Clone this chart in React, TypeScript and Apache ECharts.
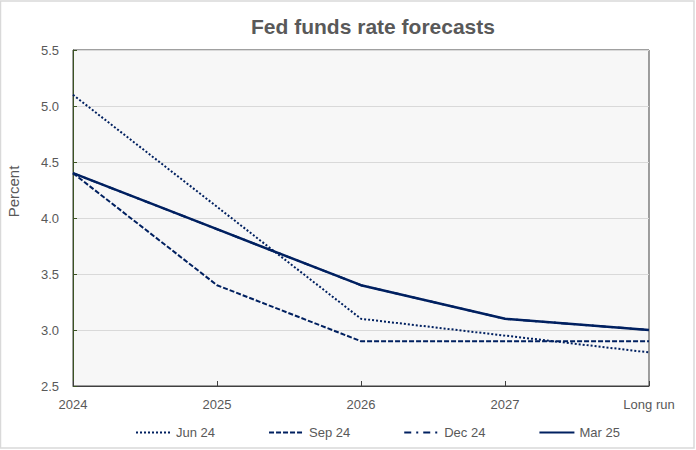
import React, { useEffect, useRef } from "react";
import * as echarts from "echarts";

const categories = ["2024", "2025", "2026", "2027", "Long run"];
const jun24 = [5.1, 4.1, 3.1, null, 2.8];
const sep24 = [4.4, 3.4, 2.9, 2.9, 2.9];
const dec24 = [4.4, 3.9, 3.4, 3.1, 3.0];
const mar25 = [4.4, 3.9, 3.4, 3.1, 3.0];
const seriesNames = ["Jun 24", "Sep 24", "Dec 24", "Mar 25"];

const NAVY = "#002060";
const TEXT = "#595959";
const FONT = "'Liberation Sans', Arial, sans-serif";

export default function App() {
  const ref = useRef<HTMLDivElement>(null);
  useEffect(() => {
    if (!ref.current) return;
    const chart = echarts.init(ref.current, null, { renderer: "svg" });
    chart.setOption({
      animation: false,
      backgroundColor: "#ffffff",
      textStyle: { fontFamily: FONT },
      title: {
        text: "Fed funds rate forecasts",
        left: 368,
        top: 11,
        textAlign: "center",
        textStyle: { fontSize: 21, fontWeight: "bold", color: TEXT, fontFamily: FONT },
      },
      graphic: [
        {
          type: "rect",
          shape: { x: 0.5, y: 1, width: 693.5, height: 447 },
          style: { fill: "none", stroke: "#d9d9d9", lineWidth: 1.5 },
          silent: true,
        },
        {
          type: "text",
          x: 13,
          y: 191.5,
          rotation: Math.PI / 2,
          style: {
            text: "Percent",
            fontSize: 15,
            fill: TEXT,
            fontFamily: FONT,
            textAlign: "center",
            textVerticalAlign: "middle",
          },
        },
      ],
      legend: {
        data: seriesNames,
        left: 130,
        top: 421,
        itemWidth: 35,
        itemHeight: 14,
        itemGap: 53,
        itemStyle: { opacity: 0, borderWidth: 0 },
        textStyle: { fontSize: 13, color: TEXT, fontFamily: FONT },
      },
      grid: {
        left: 73,
        right: 47,
        top: 50,
        bottom: 64,
        show: true,
        backgroundColor: "#f7f7f7",
        borderColor: "#404040",
        borderWidth: 1,
        containLabel: false,
      },
      xAxis: {
        type: "category",
        data: categories,
        boundaryGap: false,
        axisLine: { show: true, lineStyle: { color: "#404040", width: 1 } },
        axisTick: { show: true, inside: true, length: 5, lineStyle: { color: "#404040" } },
        axisLabel: { color: TEXT, fontSize: 13, margin: 12, fontFamily: FONT },
        splitLine: { show: false },
      },
      yAxis: {
        type: "value",
        min: 2.5,
        max: 5.5,
        interval: 0.5,
        axisLine: { show: true, lineStyle: { color: "#3b5323", width: 1 } },
        axisTick: { show: true, inside: true, length: 4, lineStyle: { color: "#3b5323" } },
        axisLabel: {
          color: TEXT,
          fontSize: 13,
          margin: 14,
          fontFamily: FONT,
          formatter: (v: number) => v.toFixed(1),
        },
        splitLine: { show: true, lineStyle: { color: "#d9d9d9", width: 1 } },
      },
      series: [
        {
          name: "Jun 24",
          type: "line",
          data: jun24,
          connectNulls: true,
          showSymbol: false,
          symbol: "none",
          lineStyle: { color: NAVY, width: 2, type: [2, 2] },
          itemStyle: { color: NAVY },
          z: 2,
        },
        {
          name: "Sep 24",
          type: "line",
          data: sep24,
          showSymbol: false,
          symbol: "none",
          lineStyle: { color: NAVY, width: 2, type: [5, 2] },
          itemStyle: { color: NAVY },
          z: 2,
        },
        {
          name: "Dec 24",
          type: "line",
          data: dec24,
          showSymbol: false,
          symbol: "none",
          lineStyle: { color: NAVY, width: 2, type: [7, 5, 2, 5] },
          itemStyle: { color: NAVY },
          z: 2,
        },
        {
          name: "Mar 25",
          type: "line",
          data: mar25,
          showSymbol: false,
          symbol: "none",
          lineStyle: { color: NAVY, width: 2.5, type: "solid" },
          itemStyle: { color: NAVY },
          z: 3,
        },
      ],
    });
    return () => chart.dispose();
  }, []);
  return (
    <div
      ref={ref}
      style={{ position: "fixed", left: 0, top: 0, width: 696, height: 450 }}
    />
  );
}
